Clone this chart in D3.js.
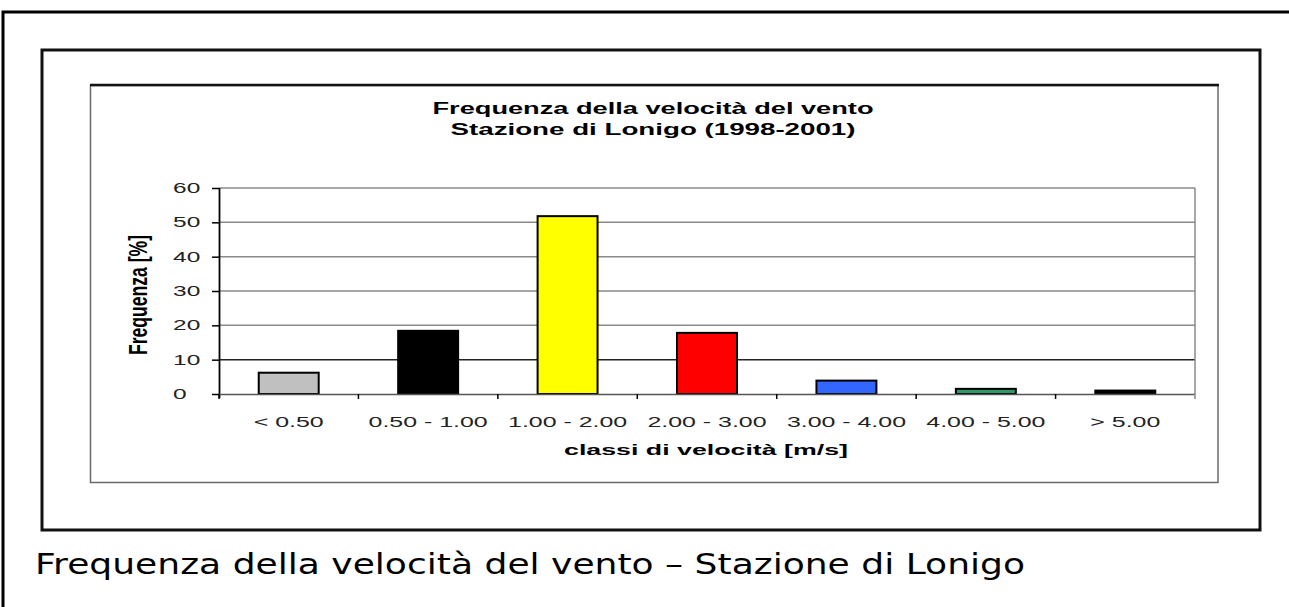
<!DOCTYPE html>
<html>
<head>
<meta charset="utf-8">
<script src="https://cdn.jsdelivr.net/npm/d3@7"></script>
<style>
  html, body { margin: 0; padding: 0; background: #ffffff; }
  svg { display: block; }
</style>
</head>
<body>
<svg id="fig" width="1289" height="607"></svg>
<script>
// Wind speed classes and their frequency (%)
const categories = ["< 0.50", "0.50 - 1.00", "1.00 - 2.00", "2.00 - 3.00", "3.00 - 4.00", "4.00 - 5.00", "> 5.00"];
const frequencies = [6.2, 18.4, 51.8, 17.8, 3.9, 1.5, 1.0];
const barColors = ["#c0c0c0", "#000000", "#ffff00", "#ff0000", "#3366ff", "#339966", "#000000"];
const yTicks = [0, 10, 20, 30, 40, 50, 60];
const chartTitle = ["Frequenza della velocità del vento", "Stazione di Lonigo (1998-2001)"];
const xTitle = "classi di velocità [m/s]";
const yTitle = "Frequenza [%]";
const caption = "Frequenza della velocità del vento – Stazione di Lonigo";

const svg = d3.select("#fig");
const FONT = "'Liberation Sans', Arial, sans-serif";

// Horizontal stretch applied to the chart lettering
function stretch(sel, sx) {
  sel.each(function () {
    const t = d3.select(this);
    const x = +t.attr("x") || 0;
    t.attr("x", x / sx).attr("transform", `scale(${sx},1)`);
  });
}

// Page and figure frames
svg.append("path")
  .attr("d", "M3,607V12H1289")
  .attr("fill", "none").attr("stroke", "#000").attr("stroke-width", 3);
svg.append("rect")
  .attr("x", 42).attr("y", 50).attr("width", 1218).attr("height", 480)
  .attr("fill", "none").attr("stroke", "#111").attr("stroke-width", 3);

// Chart area frame
svg.append("rect")
  .attr("x", 90.5).attr("y", 85.5).attr("width", 1127.5).attr("height", 397)
  .attr("fill", "none").attr("stroke", "#6a6a6a").attr("stroke-width", 1.5);
svg.append("line")
  .attr("x1", 90).attr("x2", 1219).attr("y1", 85).attr("y2", 85)
  .attr("stroke", "#111").attr("stroke-width", 2.5);

// Plot geometry
const plot = { left: 219, right: 1195, top: 188, bottom: 394 };

const x = d3.scaleBand()
  .domain(categories)
  .range([plot.left, plot.right])
  .paddingInner(0.57)
  .paddingOuter(0.285);

const y = d3.scaleLinear()
  .domain([0, 60])
  .range([plot.bottom, plot.top]);

// Horizontal gridlines
svg.append("g")
  .selectAll("line")
  .data(yTicks.filter(d => d > 0))
  .join("line")
  .attr("x1", plot.left).attr("x2", plot.right)
  .attr("y1", d => y(d)).attr("y2", d => y(d))
  .attr("stroke", d => d === 10 ? "#222" : "#8a8a8a")
  .attr("stroke-width", 1.5);

// Right edge of the plot area
svg.append("line")
  .attr("x1", plot.right).attr("x2", plot.right)
  .attr("y1", plot.top).attr("y2", plot.bottom)
  .attr("stroke", "#8a8a8a").attr("stroke-width", 1.5);

// Bars
svg.append("g")
  .selectAll("rect")
  .data(frequencies)
  .join("rect")
  .attr("x", (d, i) => x(categories[i]))
  .attr("width", x.bandwidth())
  .attr("y", d => y(d))
  .attr("height", d => y(0) - y(d))
  .attr("fill", (d, i) => barColors[i])
  .attr("stroke", "#000")
  .attr("stroke-width", 2);

// Y axis (labels share a common left edge)
const yAxis = svg.append("g")
  .attr("transform", `translate(${plot.left},0)`)
  .call(d3.axisLeft(y).tickValues(yTicks).tickSize(7).tickPadding(13).tickSizeOuter(0));
yAxis.select(".domain")
  .attr("d", `M0.5,${plot.top}V${plot.bottom + 4}`)
  .attr("stroke", "#000").attr("stroke-width", 1.8);
yAxis.selectAll(".tick line").attr("stroke", "#000").attr("stroke-width", 1.5);
yAxis.selectAll(".tick text")
  .attr("font-family", FONT).attr("font-size", 14).attr("fill", "#222")
  .attr("text-anchor", "start").attr("x", -46);
stretch(yAxis.selectAll(".tick text"), 1.75);

// X axis: baseline, class boundary ticks and class labels
const xAxis = svg.append("g")
  .attr("transform", `translate(0,${plot.bottom})`)
  .call(d3.axisBottom(x).tickSize(0).tickPadding(23));
xAxis.select(".domain")
  .attr("d", `M${plot.left},0.5H${plot.right}`)
  .attr("stroke", "#555").attr("stroke-width", 1.5);
xAxis.selectAll(".tick text")
  .attr("font-family", FONT).attr("font-size", 14).attr("fill", "#222");
stretch(xAxis.selectAll(".tick text"), 1.78);

const step = x.step();
xAxis.append("g")
  .selectAll("line")
  .data(d3.range(categories.length + 1))
  .join("line")
  .attr("x1", i => plot.left + i * step).attr("x2", i => plot.left + i * step)
  .attr("y1", 0).attr("y2", 5)
  .attr("stroke", i => i === categories.length ? "#8a8a8a" : "#000")
  .attr("stroke-width", 1.5);

// Chart title
const titleWidths = [441, 405];
svg.append("g")
  .selectAll("text")
  .data(chartTitle)
  .join("text")
  .attr("x", 653).attr("y", (d, i) => 114 + i * 20.5)
  .attr("text-anchor", "middle")
  .attr("font-family", FONT).attr("font-weight", "bold").attr("font-size", 16)
  .attr("textLength", (d, i) => titleWidths[i])
  .attr("lengthAdjust", "spacingAndGlyphs")
  .text(d => d);

// Axis titles
svg.append("text")
  .attr("x", 706).attr("y", 455)
  .attr("text-anchor", "middle")
  .attr("font-family", FONT).attr("font-weight", "bold").attr("font-size", 15)
  .attr("textLength", 284).attr("lengthAdjust", "spacingAndGlyphs")
  .text(xTitle);

svg.append("text")
  .attr("transform", "translate(147,295) scale(1.75,1) rotate(-90)")
  .attr("text-anchor", "middle")
  .attr("font-family", FONT).attr("font-weight", "bold").attr("font-size", 14.5)
  .attr("textLength", 120).attr("lengthAdjust", "spacingAndGlyphs")
  .text(yTitle);

// Figure caption
svg.append("text")
  .attr("x", 35).attr("y", 574)
  .attr("font-family", "'DejaVu Sans', Verdana, sans-serif").attr("font-size", 29)
  .attr("textLength", 990).attr("lengthAdjust", "spacingAndGlyphs")
  .text(caption);
</script>
</body>
</html>
